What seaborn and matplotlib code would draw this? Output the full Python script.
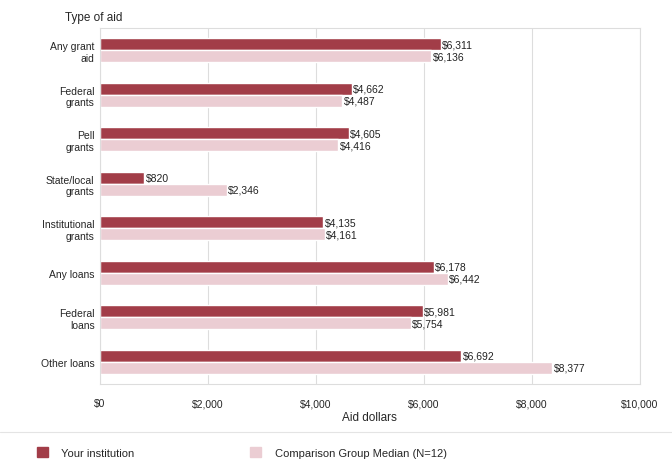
import matplotlib
matplotlib.use("Agg")
import matplotlib.pyplot as plt
import seaborn as sns
import pandas as pd
from matplotlib.patches import Patch

categories = ["Any grant\naid", "Federal\ngrants", "Pell\ngrants", "State/local\ngrants",
              "Institutional\ngrants", "Any loans", "Federal\nloans", "Other loans"]
your_inst = [6311, 4662, 4605, 820, 4135, 6178, 5981, 6692]
comparison = [6136, 4487, 4416, 2346, 4161, 6442, 5754, 8377]
series = ["Your institution", "Comparison Group Median (N=12)"]
xticks = [0, 2000, 4000, 6000, 8000, 10000]

df = pd.DataFrame({
    "cat": categories * 2,
    "val": your_inst + comparison,
    "series": [series[0]] * len(categories) + [series[1]] * len(categories),
})

sns.set_theme(style="white")
plt.rcParams['font.family'] = ['Liberation Sans', 'DejaVu Sans']

dark = "#a23d48"
light = "#ebcdd3"

fig = plt.figure(figsize=(6.72, 4.64), dpi=100)
ax = fig.add_axes([0.149, 0.170, 0.803, 0.768])
sns.barplot(data=df, y="cat", x="val", hue="series", order=categories,
            hue_order=series, palette=[dark, light], orient="h",
            width=0.54, saturation=1, ax=ax, legend=False)

for cont in ax.containers:
    ax.bar_label(cont, labels=[f"${v:,.0f}" for v in cont.datavalues],
                 padding=1, fontsize=7.5, color="#222222")

ax.set_xlim(0, 10000)
ax.set_ylim(7.5, -0.5)
ax.set_xticks(xticks)
ax.set_xticklabels([f"${v:,}" for v in xticks], fontsize=7.5)
ax.tick_params(axis="x", pad=10, length=0)
ax.tick_params(axis="y", length=0, labelsize=7.5, pad=4)
for lab in ax.get_yticklabels():
    lab.set_horizontalalignment("right")
    lab.set_multialignment("right")
ax.xaxis.grid(True, color="#dddddd", linewidth=0.8)
ax.set_axisbelow(True)
for s in ax.spines.values():
    s.set_color("#dddddd")
    s.set_linewidth(0.8)
ax.set_ylabel("")
ax.set_xlabel("Aid dollars", fontsize=8.5, labelpad=2)

fig.text(0.097, 0.962, "Type of aid", fontsize=8.5, ha="left", va="center")

handles = [Patch(facecolor=dark, edgecolor=dark), Patch(facecolor=light, edgecolor=light)]
fig.legend(handles, series, loc="lower left", bbox_to_anchor=(0.04, -0.01), ncol=2,
           frameon=False, fontsize=8, handlelength=1.0, handleheight=1.0,
           columnspacing=10.4, handletextpad=1.2)
fig.add_artist(plt.Line2D([0.0, 1.0], [0.067, 0.067], color="#e4e4e4", lw=0.8))

fig.savefig("out.png", dpi=100, facecolor="white")
